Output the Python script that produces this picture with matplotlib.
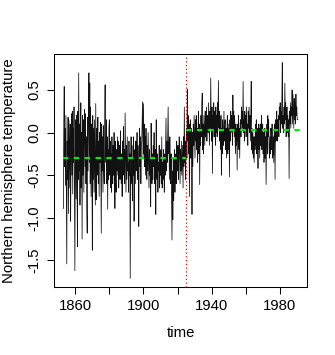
import matplotlib
matplotlib.use("Agg")
import matplotlib.pyplot as plt
import numpy as np

plt.rcParams['font.family'] = ['Liberation Sans', 'DejaVu Sans']

# ---- data (quarterly readings of the monthly series) ----
START_YEAR = 1853.0
PER_YEAR = 4
temperature = [
    -0.89, 0.12, 0.54, -0.40,   # 1853
    0.05, -0.62, 0.20, -0.70,   # 1854
    -1.54, -0.10, -0.55, 0.18,  # 1855
    -0.95, 0.15, -0.30, -0.65,  # 1856
    0.10, -1.04, -0.20, 0.22,   # 1857
    -0.50, 0.25, -0.72, 0.05,   # 1858
    -0.35, 0.30, -0.60, -1.62,  # 1859
    -0.20, 0.15, -0.78, 0.20,   # 1860
    -0.40, -1.34, 0.25, -0.55,  # 1861
    0.70, -0.45, 0.10, -0.85,   # 1862
    -0.10, 0.35, -0.65, 0.00,   # 1863
    -1.25, 0.20, -0.50, 0.15,   # 1864
    -0.70, 0.05, 0.27, -0.40,   # 1865
    0.22, -0.60, -0.05, -0.90,  # 1866
    -1.18, 0.18, -0.45, 0.25,   # 1867
    0.70, -0.35, 0.58, -0.60,   # 1868
    0.30, -0.75, 0.10, -0.30,   # 1869
    -1.38, 0.20, -0.55, 0.05,   # 1870
    -0.70, 0.15, -0.40, -0.85,  # 1871
    0.34, -0.79, 0.05, -0.50,   # 1872
    -0.20, 0.18, -0.60, -0.10,  # 1873
    -0.75, 0.00, -0.35, 0.12,   # 1874
    -0.55, -1.18, 0.10, -0.45,  # 1875
    -0.05, -0.70, 0.08, -0.40,  # 1876
    -0.60, 0.10, 0.56, -0.20,   # 1877
    -0.35, 0.15, -0.60, -0.05,  # 1878
    -0.90, -0.20, -0.55, 0.05,  # 1879
    0.15, -0.50, -0.10, -0.65,  # 1880
    -0.25, -0.70, -0.05, -0.45, # 1881
    -0.60, -0.15, -0.50, 0.00,  # 1882
    -0.30, -0.89, -0.10, -0.55, # 1883
    -0.70, -0.20, -0.45, -0.05, # 1884
    -0.50, -0.10, -0.65, -0.25, # 1885
    -0.15, -0.55, 0.02, -0.40,  # 1886
    -0.60, -0.25, -0.75, -0.10, # 1887
    -0.35, 0.07, -0.50, -0.20,  # 1888
    -0.60, 0.23, -0.30, -0.70,  # 1889
    -0.15, -0.55, -0.05, -0.45, # 1890
    -0.35, -0.70, -0.10, -0.50, # 1891
    -0.25, -1.71, -0.40, -0.05, # 1892
    -0.60, -0.15, -0.80, -0.30, # 1893
    -0.50, -0.05, -1.04, -0.35, # 1894
    -0.20, -0.60, -0.10, -0.45, # 1895
    -0.30, 0.00, -0.55, -0.15,  # 1896
    -0.45, -1.10, -0.20, 0.05,  # 1897
    -0.40, -0.05, -0.60, -0.20, # 1898
    -0.10, 0.15, 0.36, -0.30,   # 1899
    0.34, -0.25, 0.10, -0.40,   # 1900
    -0.05, -0.50, 0.05, -0.30,  # 1901
    -0.55, -0.15, -0.45, 0.00,  # 1902
    -0.35, -0.65, -0.20, -0.50, # 1903
    -0.30, -0.87, 0.11, -0.45,  # 1904
    -0.60, -0.25, -0.55, -0.15, # 1905
    -0.40, 0.00, -0.60, -0.30,  # 1906
    -0.20, -0.96, 0.15, -0.50,  # 1907
    -0.55, -0.25, -0.70, -0.35, # 1908
    -0.45, -0.15, -0.65, -0.30, # 1909
    -0.50, -0.20, -0.60, -0.05, # 1910
    -0.65, -0.35, -0.55, -0.20, # 1911
    -0.40, -0.70, -0.25, -0.50, # 1912
    -0.15, 0.17, -0.45, -0.10,  # 1913
    -0.35, 0.00, 0.30, -0.25,   # 1914
    -0.10, -0.55, -0.05, -0.40, # 1915
    -0.60, -0.25, -0.75, -1.26, # 1916
    -0.45, -1.02, -0.30, -0.80, # 1917
    -0.55, -0.20, -0.70, -0.35, # 1918
    -0.25, -0.60, -0.10, -0.45, # 1919
    -0.40, -0.15, -0.55, -0.25, # 1920
    -0.05, -0.35, -0.60, -0.20, # 1921
    -0.45, -0.10, -0.50, -0.30, # 1922
    -0.15, -0.65, -0.05, -0.40, # 1923
    0.30, -0.35, -0.10, -0.55,  # 1924
    -0.20, 0.05, -0.30, 0.51,   # 1925
    -0.10, 0.20, -0.25, 0.10,   # 1926
    -0.75, -0.05, 0.15, -0.30,  # 1927
    0.05, -0.20, -0.96, 0.00,   # 1928
    -0.40, 0.10, -0.15, 0.20,   # 1929
    -0.05, -0.30, 0.15, -0.10,  # 1930
    0.20, -0.20, 0.05, -0.35,   # 1931
    -0.10, 0.25, -0.25, 0.10,   # 1932
    -0.61, 0.05, -0.15, 0.20,   # 1933
    -0.05, 0.30, 0.46, -0.20,   # 1934
    0.10, -0.25, 0.20, 0.00,    # 1935
    -0.15, 0.25, -0.05, 0.15,   # 1936
    0.30, -0.10, 0.20, 0.05,    # 1937
    0.00, 0.35, 0.10, -0.15,    # 1938
    0.25, 0.05, 0.64, 0.15,     # 1939
    -0.10, 0.30, -0.48, 0.20,   # 1940
    0.05, 0.35, -0.05, 0.25,    # 1941
    0.10, -0.15, 0.30, 0.00,    # 1942
    0.20, -0.05, 0.35, 0.10,    # 1943
    0.61, 0.05, 0.25, -0.10,    # 1944
    0.15, -0.20, 0.20, -0.50,   # 1945
    0.05, -0.25, 0.15, -0.05,   # 1946
    -0.15, 0.25, -0.10, 0.10,   # 1947
    0.15, -0.20, 0.05, -0.30,   # 1948
    0.00, 0.20, -0.25, 0.10,    # 1949
    -0.20, 0.05, -0.52, 0.15,   # 1950
    -0.10, 0.25, 0.00, 0.20,    # 1951
    0.10, -0.15, 0.44, 0.05,    # 1952
    0.25, -0.05, 0.20, 0.00,    # 1953
    -0.25, 0.10, -0.15, 0.05,   # 1954
    -0.44, 0.10, -0.10, 0.20,   # 1955
    -0.20, 0.05, -0.30, 0.10,   # 1956
    0.15, -0.05, 0.30, 0.10,    # 1957
    0.25, 0.05, 0.60, 0.00,     # 1958
    0.15, -0.10, 0.25, 0.05,    # 1959
    0.20, -0.05, 0.30, 0.00,    # 1960
    0.10, -0.15, 0.25, 0.05,    # 1961
    0.30, 0.00, 0.20, -0.10,    # 1962
    0.15, 0.60, -0.20, 0.05,    # 1963
    -0.25, 0.00, -0.30, -0.05,  # 1964
    -0.35, -0.05, -0.20, 0.10,  # 1965
    -0.15, 0.15, -0.25, 0.05,   # 1966
    -0.10, -0.42, 0.10, -0.20,  # 1967
    0.05, -0.30, 0.10, -0.15,   # 1968
    -0.05, 0.20, -0.20, 0.05,   # 1969
    0.10, -0.25, 0.00, -0.35,   # 1970
    -0.20, 0.05, -0.30, -0.05,  # 1971
    -0.61, -0.10, 0.10, -0.25,  # 1972
    0.20, -0.05, 0.15, -0.20,   # 1973
    -0.30, -0.05, -0.25, 0.05,  # 1974
    0.00, -0.20, 0.10, -0.30,   # 1975
    -0.25, -0.05, -0.35, 0.00,  # 1976
    0.10, -0.55, 0.15, -0.10,   # 1977
    0.05, 0.25, -0.10, 0.15,    # 1978
    0.00, 0.20, -0.05, 0.30,    # 1979
    0.15, 0.35, 0.00, 0.25,     # 1980
    0.10, 0.40, 0.82, 0.05,     # 1981
    0.20, 0.00, 0.30, 0.10,     # 1982
    0.58, 0.15, 0.35, -0.05,    # 1983
    0.10, 0.30, 0.00, 0.20,     # 1984
    -0.05, 0.15, -0.54, 0.25,   # 1985
    0.10, 0.35, 0.05, 0.30,     # 1986
    0.20, 0.50, 0.10, 0.45,     # 1987
    0.25, 0.05, 0.40, 0.15,     # 1988
    0.35, 0.10, 0.45, 0.20,     # 1989
    0.30, 0.15, 0.15,           # 1990
]

break_year = 1924.8
segment_means = [-0.30, 0.03]
segment_ends = [1853.0, 1924.8, 1992.0]

x_ticks = [1860, 1880, 1900, 1920, 1940, 1960, 1980]
x_tick_labels = ["1860", "", "1900", "", "1940", "", "1980"]
y_ticks = [-1.5, -1.0, -0.5, 0.0, 0.5]
y_tick_labels = ["-1.5", "-1.0", "-0.5", "0.0", "0.5"]

# ---- plot ----
years = START_YEAR + np.arange(len(temperature)) / PER_YEAR
vals = np.array(temperature)

fig = plt.figure(figsize=(3.35, 3.55), dpi=100)
ax = fig.add_axes([54/335, 1 - 287/355, (307-54)/335, (287-54)/355])

ax.plot(years, vals, color='#111111', lw=0.55)

for i, m in enumerate(segment_means):
    ax.plot([segment_ends[i], segment_ends[i+1]], [m, m], color='#00ee00',
            lw=1.5, linestyle=(0, (2.6, 2.6)))

ax.axvline(break_year, color='red', lw=0.9, linestyle=(0, (1, 2.0)))

xr = years.max() - years.min()
ax.set_xlim(years.min() - 0.04*xr, years.max() + 0.04*xr)
yr = vals.max() - vals.min()
ax.set_ylim(vals.min() - 0.04*yr, vals.max() + 0.04*yr)

ax.set_xticks(x_ticks)
ax.set_xticklabels(x_tick_labels)
ax.set_yticks(y_ticks)
ax.set_yticklabels(y_tick_labels, rotation=90, va='center')

ax.tick_params(axis='both', direction='out', length=5, width=0.75,
               labelsize=10.7, color='black')
ax.tick_params(axis='x', pad=4)
ax.tick_params(axis='y', pad=4)
for s in ax.spines.values():
    s.set_linewidth(0.75)
    s.set_color('black')

ax.set_xlabel('time', fontsize=10.7, labelpad=9)
ax.set_ylabel('Northern hemisphere temperature', fontsize=10.7, labelpad=8)

fig.savefig('out.png', dpi=100)
